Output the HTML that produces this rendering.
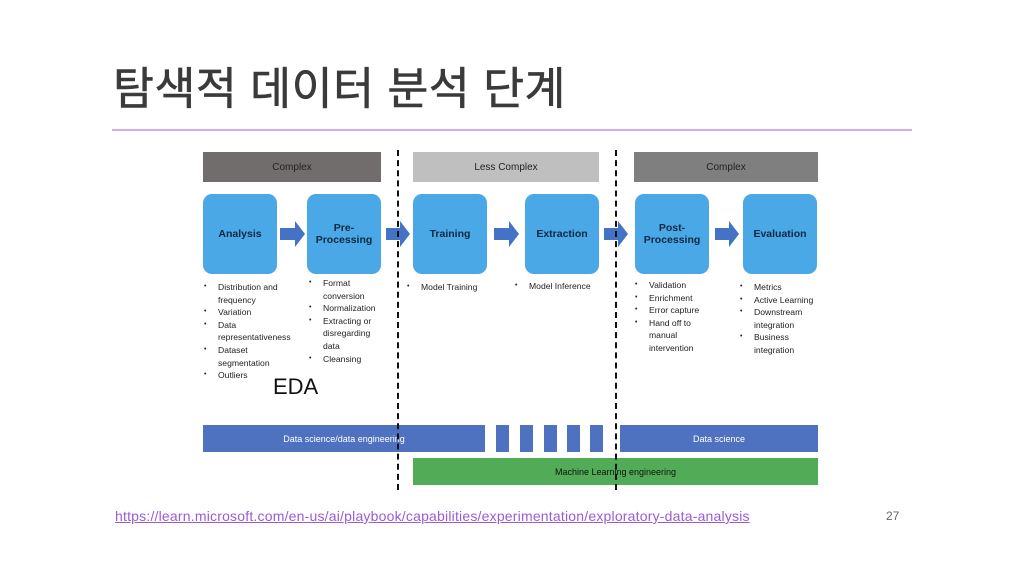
<!DOCTYPE html>
<html><head><meta charset="utf-8"><style>
body{margin:0;width:1024px;height:576px;background:#fff;position:relative;overflow:hidden;font-family:"Liberation Sans","Noto Sans CJK KR",sans-serif}
.a{position:absolute}
.hdr{position:absolute;top:152px;height:30px;font-size:10px;color:#222;display:flex;align-items:center;justify-content:center}
.box{position:absolute;top:194px;width:74px;height:80px;background:#4aa8e6;border-radius:9px;display:flex;align-items:center;justify-content:center;text-align:center;font-weight:bold;font-size:10.5px;color:#0e2841;line-height:12px}
ul{position:absolute;margin:0;padding:0 0 0 14px;font-size:8.6px;line-height:12.6px;color:#222;list-style:none;white-space:nowrap}
li{position:relative}
li:before{content:"•";position:absolute;left:-14px;font-size:7px}
.dash{position:absolute;top:150px;height:340px;width:0;border-left:2px dashed #111}
.bar{position:absolute;height:27px;display:flex;align-items:center;justify-content:center;font-size:9px;color:#fff}
</style></head><body>
<div class="a" style="left:113px;top:52px;font-size:44.5px;color:#3a3a3a;letter-spacing:0.5px;-webkit-text-stroke:0.6px #3a3a3a">탐색적 데이터 분석 단계</div>
<div class="a" style="left:112px;top:129px;width:800px;height:2px;background:#cfb0ea"></div>

<div class="hdr" style="left:203px;width:178px;background:#716d6d">Complex</div>
<div class="hdr" style="left:413px;width:186px;background:#bfbfbf">Less Complex</div>
<div class="hdr" style="left:634px;width:184px;background:#7f7f7f">Complex</div>

<div class="box" style="left:203px">Analysis</div>
<div class="box" style="left:307px">Pre-<br>Processing</div>
<div class="box" style="left:413px">Training</div>
<div class="box" style="left:525px">Extraction</div>
<div class="box" style="left:635px">Post-<br>Processing</div>
<div class="box" style="left:743px">Evaluation</div>

<svg class="a" style="left:0;top:0" width="1024" height="576">
<g fill="#4472c4">
<polygon points="280,228 295,228 295,221 305,234 295,247 295,240 280,240"/>
<polygon points="386,228 400,228 400,221 410,234 400,247 400,240 386,240"/>
<polygon points="494,228 509,228 509,221 519,234 509,247 509,240 494,240"/>
<polygon points="604,228 618,228 618,221 628,234 618,247 618,240 604,240"/>
<polygon points="715,228 729,228 729,221 739,234 729,247 729,240 715,240"/>
</g>
</svg>

<ul style="left:204px;top:281px">
<li>Distribution and<br>frequency</li><li>Variation</li><li>Data<br>representativeness</li><li>Dataset<br>segmentation</li><li>Outliers</li></ul>
<ul style="left:309px;top:277px">
<li>Format<br>conversion</li><li>Normalization</li><li>Extracting or<br>disregarding<br>data</li><li>Cleansing</li></ul>
<ul style="left:407px;top:281px"><li>Model Training</li></ul>
<ul style="left:515px;top:280px"><li>Model Inference</li></ul>
<ul style="left:635px;top:279px">
<li>Validation</li><li>Enrichment</li><li>Error capture</li><li>Hand off to<br>manual<br>intervention</li></ul>
<ul style="left:740px;top:281px">
<li>Metrics</li><li>Active Learning</li><li>Downstream<br>integration</li><li>Business<br>integration</li></ul>

<div class="a" style="left:273px;top:374px;font-size:22px;color:#111">EDA</div>

<div class="bar" style="left:203px;top:425px;width:282px;background:#4f72c0">Data science/data engineering</div>
<div class="bar" style="left:496px;top:425px;width:13px;background:#4f72c0"></div>
<div class="bar" style="left:520px;top:425px;width:13px;background:#4f72c0"></div>
<div class="bar" style="left:544px;top:425px;width:13px;background:#4f72c0"></div>
<div class="bar" style="left:567px;top:425px;width:13px;background:#4f72c0"></div>
<div class="bar" style="left:590px;top:425px;width:13px;background:#4f72c0"></div>
<div class="bar" style="left:620px;top:425px;width:198px;background:#4f72c0">Data science</div>
<div class="bar" style="left:413px;top:458px;width:405px;background:#52ab57;color:#111">Machine Learning engineering</div>

<div class="dash" style="left:397px"></div>
<div class="dash" style="left:615px"></div>

<div class="a" style="left:115px;top:508px;font-size:14px;letter-spacing:0.2px;color:#9b5bd6;text-decoration:underline">https://learn.microsoft.com/en-us/ai/playbook/capabilities/experimentation/exploratory-data-analysis</div>
<div class="a" style="left:886px;top:509px;font-size:12px;color:#666">27</div>
</body></html>
